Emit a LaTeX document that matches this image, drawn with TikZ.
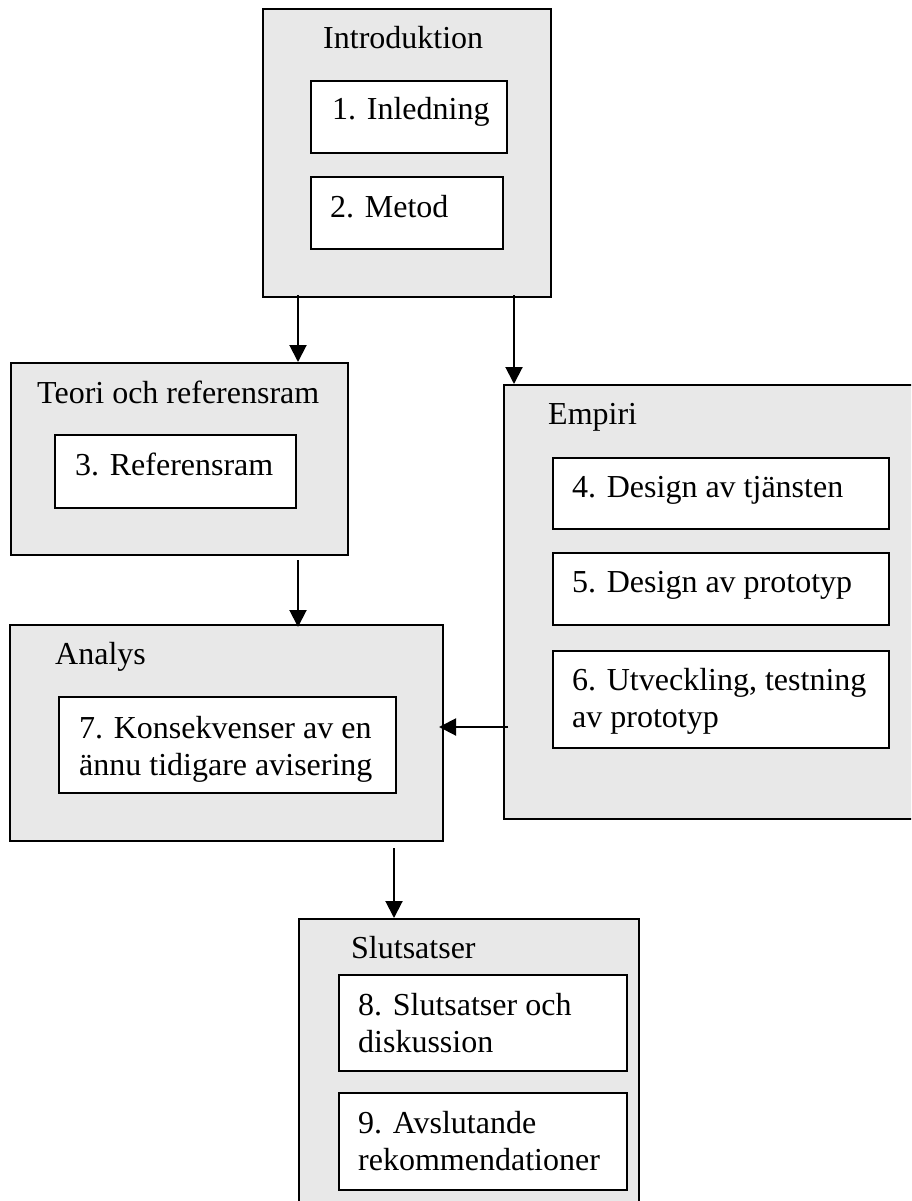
\documentclass[tikz,border=0pt]{standalone}
\usepackage{fontspec}
\setmainfont{Liberation Serif}
\usetikzlibrary{arrows.meta}
\definecolor{groupgray}{HTML}{E8E8E8}
\newcommand{\boxfont}{\fontsize{32}{37}\selectfont}
\begin{document}
\begin{tikzpicture}[x=1pt,y=-1pt,
  groupbox/.style={draw=black, line width=2pt, fill=groupgray, inner sep=0pt, anchor=north west},
  chapterbox/.style={draw=black, line width=2pt, fill=white, inner sep=0pt, anchor=north west},
  lbl/.style={anchor=base west, inner sep=0pt, font=\boxfont, align=left},
  flow/.style={-{Triangle[length=17pt,width=17pt]}, line width=2pt}]
\useasboundingbox (0,0) rectangle (911,1201);
\clip (0,0) rectangle (911,1201);

% group frames
\node[groupbox, minimum width=288pt, minimum height=288pt] (intro) at (262,8) {};
\node[groupbox, minimum width=337pt, minimum height=192pt] (teori) at (10,362) {};
\node[groupbox, minimum width=410pt, minimum height=434pt] (empiri) at (503,384) {};
\node[groupbox, minimum width=433pt, minimum height=216pt] (analys) at (9,624) {};
\node[groupbox, minimum width=340pt, minimum height=300pt] (slut) at (298,918) {};

% chapter boxes
\node[chapterbox, minimum width=196pt, minimum height=72pt] (ch1) at (310,80) {};
\node[chapterbox, minimum width=192pt, minimum height=72pt] (ch2) at (310,176) {};
\node[chapterbox, minimum width=241pt, minimum height=73pt] (ch3) at (54,434) {};
\node[chapterbox, minimum width=336pt, minimum height=71pt] (ch4) at (552,457) {};
\node[chapterbox, minimum width=336pt, minimum height=72pt] (ch5) at (552,552) {};
\node[chapterbox, minimum width=336pt, minimum height=97pt] (ch6) at (552,650) {};
\node[chapterbox, minimum width=337pt, minimum height=96pt] (ch7) at (58,696) {};
\node[chapterbox, minimum width=288pt, minimum height=96pt] (ch8) at (338,974) {};
\node[chapterbox, minimum width=288pt, minimum height=97pt] (ch9) at (338,1092) {};

% group titles
\node[lbl] (tIntro) at (323,49) {Introduktion};
\node[lbl] (tTeori) at (37,403) {Teori och referensram};
\node[lbl] (tEmpiri) at (548,424) {Empiri};
\node[lbl] (tAnalys) at (55,664) {Analys};
\node[lbl] (tSlut) at (351,958) {Slutsatser};

% chapter titles (multi-line labels sit on the baseline of their last line)
\node[lbl] (l1) at (332,120) {1. Inledning};
\node[lbl] (l2) at (330,217) {2. Metod};
\node[lbl] (l3) at (75,475) {3. Referensram};
\node[lbl] (l4) at (572,497) {4. Design av tjänsten};
\node[lbl] (l5) at (572,592) {5. Design av prototyp};
\node[lbl] (l6) at (572,727) {6. Utveckling, testning\\av prototyp};
\node[lbl] (l7) at (79,775) {7. Konsekvenser av en\\ännu tidigare avisering};
\node[lbl] (l8) at (358,1052) {8. Slutsatser och\\diskussion};
\node[lbl] (l9) at (358,1170) {9. Avslutande\\rekommendationer};

% columns and row used by the connectors
\coordinate (colL) at (298,0);
\coordinate (colR) at (514,0);
\coordinate (colM) at (394,0);
\coordinate (rowA) at (0,727);

% connectors
\draw[flow] ([yshift=3pt]intro.south -| colL) -- (colL |- teori.north);
\draw[flow] ([yshift=3pt]intro.south -| colR) -- (colR |- empiri.north);
\draw[flow] ([yshift=-4pt]teori.south -| colL) -- ([yshift=-3pt]colL |- analys.north);
\draw[flow] ([xshift=5pt]empiri.west |- rowA) -- ([xshift=-5pt]analys.east |- rowA);
\draw[flow] ([yshift=-6pt]analys.south -| colM) -- (colM |- slut.north);
\end{tikzpicture}
\end{document}
